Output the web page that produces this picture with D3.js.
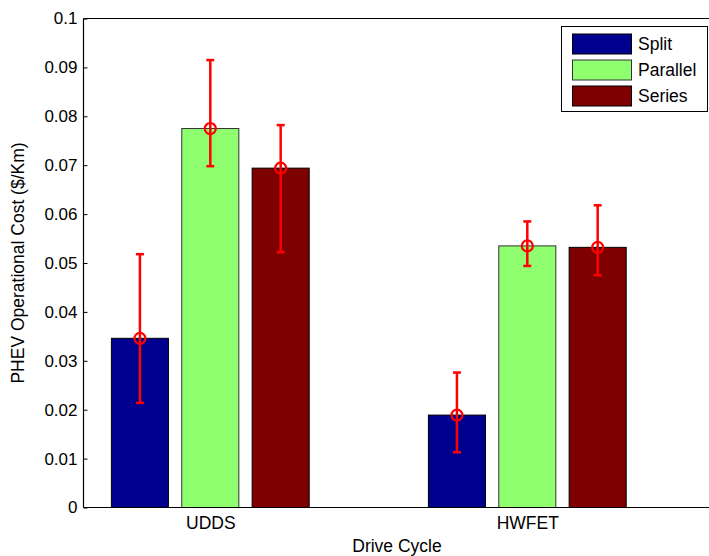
<!DOCTYPE html>
<html><head><meta charset="utf-8">
<script src="https://cdn.jsdelivr.net/npm/d3@7"></script>
<style>body{margin:0;background:#fff}svg{display:block;font-family:"Liberation Sans",Arial,sans-serif}</style>
</head><body>
<script>
const categories = ["UDDS", "HWFET"];
const seriesNames = ["Split", "Parallel", "Series"];
const seriesColors = ["#00008f", "#8fff70", "#7f0000"];
const meanValues = [
  [0.0346, 0.0775, 0.0694],
  [0.0189, 0.0535, 0.0532]
];
const upperValues = [
  [0.0518, 0.0915, 0.0782],
  [0.0276, 0.0585, 0.0618]
];
const lowerValues = [
  [0.0214, 0.0698, 0.0522],
  [0.0113, 0.0494, 0.0475]
];
const yTicks = [0, 0.01, 0.02, 0.03, 0.04, 0.05, 0.06, 0.07, 0.08, 0.09, 0.1];

const W = 709, H = 556;
const FONT = "Liberation Sans, Arial, sans-serif";
const svg = d3.select("body").append("svg").attr("width", W).attr("height", H);

const x = d3.scaleLinear().domain([0.6, 2.6]).range([83.5, 717.5]);
const y = d3.scaleLinear().domain([0, 0.1]).range([507.5, 18.5]);
const offset = 0.222, barW = 0.18;

// axes (drawn beneath bars)
const yAxis = d3.axisLeft(y).tickValues(yTicks).tickSize(-4).tickPadding(6)
  .tickFormat(d => d === 0 ? "0" : d3.format("")(+d.toFixed(2)));
const ya = svg.append("g").attr("transform", `translate(${x(0.6)},0)`).call(yAxis);
ya.select(".domain").remove();
ya.selectAll("text").attr("font-size", 17).attr("fill", "#000").attr("font-family", FONT);
ya.selectAll("line").attr("stroke", "#000");

const xAxis = d3.axisBottom(x).tickValues([1, 2]).tickSize(-4).tickPadding(9).tickFormat((d, i) => categories[i]);
const xa = svg.append("g").attr("transform", `translate(0,${y(0)})`).call(xAxis);
xa.select(".domain").remove();
xa.selectAll("text").attr("font-size", 17.5).attr("fill", "#000").attr("font-family", FONT);
xa.selectAll("line").attr("stroke", "#000");

// bars
categories.forEach((c, gi) => {
  const g = svg.append("g");
  seriesNames.forEach((s, si) => {
    const cx = gi + 1 + (si - 1) * offset;
    const v = meanValues[gi][si];
    g.append("rect")
      .attr("x", x(cx - barW / 2)).attr("width", x(cx + barW / 2) - x(cx - barW / 2))
      .attr("y", y(v)).attr("height", y(0) - y(v))
      .attr("fill", seriesColors[si]).attr("stroke", si === 1 ? "#333" : "#000").attr("stroke-width", 1);
  });
});

// error bars
categories.forEach((c, gi) => {
  seriesNames.forEach((s, si) => {
    const cx = x(gi + 1 + (si - 1) * offset);
    const up = y(upperValues[gi][si]), lo = y(lowerValues[gi][si]), m = y(meanValues[gi][si]);
    svg.append("line").attr("x1", cx).attr("x2", cx).attr("y1", up).attr("y2", lo)
      .attr("stroke", "#ff0000").attr("stroke-width", 2.5);
    [up, lo].forEach(yy => svg.append("line").attr("x1", cx - 4).attr("x2", cx + 4).attr("y1", yy).attr("y2", yy)
      .attr("stroke", "#ff0000").attr("stroke-width", 2.5));
    svg.append("circle").attr("cx", cx).attr("cy", m).attr("r", 5.5)
      .attr("fill", "none").attr("stroke", "#ff0000").attr("stroke-width", 2.2);
  });
});

// box lines
svg.append("line").attr("x1", x(0.6)).attr("x2", W).attr("y1", y(0)).attr("y2", y(0)).attr("stroke", "#000").attr("stroke-width", 1.2);
svg.append("line").attr("x1", x(0.6)).attr("x2", W).attr("y1", y(0.1)).attr("y2", y(0.1)).attr("stroke", "#000").attr("stroke-width", 1.2);
svg.append("line").attr("x1", x(0.6)).attr("x2", x(0.6)).attr("y1", y(0)).attr("y2", y(0.1)).attr("stroke", "#000").attr("stroke-width", 1.2);

// axis labels
svg.append("text").attr("x", 397).attr("y", 552).attr("text-anchor", "middle").attr("font-size", 17.5)
  .attr("font-family", FONT).text("Drive Cycle");
svg.append("text").attr("transform", `translate(24,${(y(0) + y(0.1)) / 2}) rotate(-90)`).attr("text-anchor", "middle")
  .attr("font-size", 17.5).attr("font-family", FONT).text("PHEV Operational Cost ($/Km)");

// legend
const lg = svg.append("g");
lg.append("rect").attr("x", 561.5).attr("y", 26.5).attr("width", 146).attr("height", 85)
  .attr("fill", "#fff").attr("stroke", "#000").attr("stroke-width", 1);
seriesNames.forEach((s, i) => {
  const yy = 34 + i * 26;
  lg.append("rect").attr("x", 572.5).attr("y", yy).attr("width", 59).attr("height", 20)
    .attr("fill", seriesColors[i]).attr("stroke", i === 1 ? "#333" : "#000");
  lg.append("text").attr("x", 638).attr("y", yy + 16).attr("font-size", 17.5).attr("font-family", FONT).text(s);
});
</script>
</body></html>
